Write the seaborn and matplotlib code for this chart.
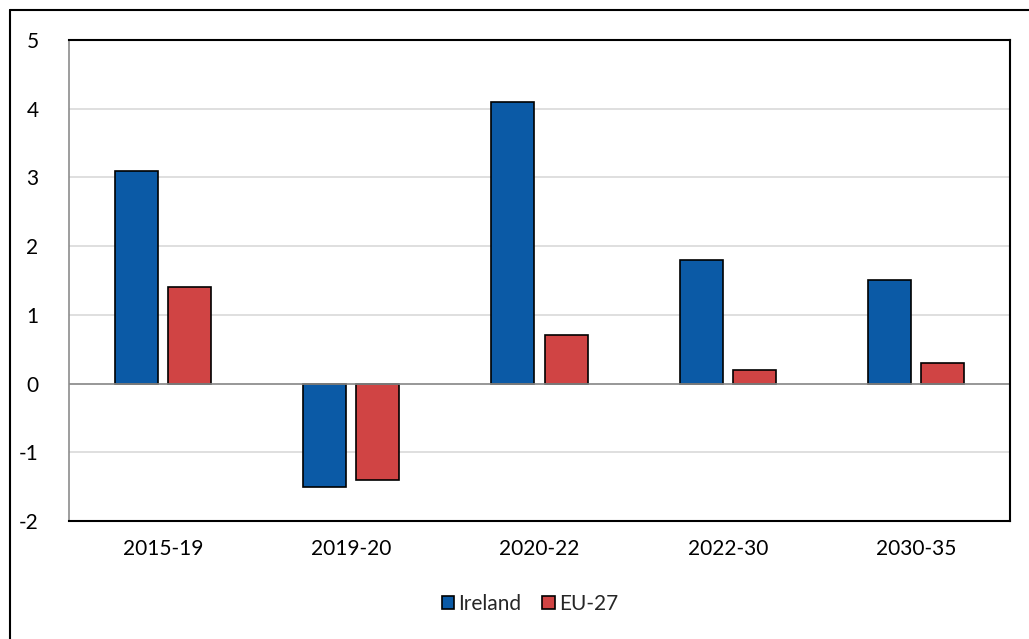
import numpy as np
import pandas as pd
import seaborn as sns
import matplotlib.pyplot as plt
from matplotlib.lines import Line2D
from matplotlib.patches import Patch

periods = ["2015-19", "2019-20", "2020-22", "2022-30", "2030-35"]
ireland = [3.1, -1.5, 4.1, 1.8, 1.5]
eu27 = [1.4, -1.4, 0.7, 0.2, 0.3]
series_names = ["Ireland", "EU-27"]
colors = ["#0B5AA6", "#D04444"]

df = pd.DataFrame({
    "period": periods * 2,
    "value": ireland + eu27,
    "series": [series_names[0]] * len(periods) + [series_names[1]] * len(periods),
})

sns.set_theme(style="white")
plt.rcParams["font.family"] = ["Lato", "DejaVu Sans"]
plt.rcParams["axes.unicode_minus"] = False

fig = plt.figure(figsize=(10.29, 6.39), dpi=100)
ax = fig.add_axes([0.0671, 0.1847, 0.9144, 0.7527])

sns.barplot(data=df, x="period", y="value", hue="series", palette=colors,
            width=0.564, gap=0.19, edgecolor="black", linewidth=1.2,
            saturation=1, legend=False, ax=ax)

ax.set_ylim(-2, 5)
ax.set_yticks(range(-2, 6))
ax.set_xlim(-0.5, len(periods) - 0.5)
ax.grid(axis="y", color="#d9d9d9", linewidth=1.2)
ax.set_axisbelow(True)
ax.axhline(0, color="#8c8c8c", linewidth=1.2, zorder=1.5)
ax.set_xlabel("")
ax.set_ylabel("")
ax.tick_params(axis="both", length=0, labelsize=15, colors="black")
ax.tick_params(axis="y", pad=22)
ax.tick_params(axis="x", pad=13)

for side in ["top", "right", "bottom"]:
    ax.spines[side].set_color("black")
    ax.spines[side].set_linewidth(1.5)
ax.spines["left"].set_color("#8c8c8c")
ax.spines["left"].set_linewidth(1.2)

handles = [Patch(facecolor=c, edgecolor="black", linewidth=1.2) for c in colors]
fig.legend(handles, series_names, loc="center", bbox_to_anchor=(0.515, 1 - 604 / 639),
           ncol=2, frameon=False, fontsize=15, handlelength=0.6, handleheight=0.6,
           handletextpad=0.2, columnspacing=1.0)

# outer frame (top and left edges only visible)
fig.add_artist(Line2D([10 / 1029, 1.0], [1 - 10 / 639, 1 - 10 / 639],
                      transform=fig.transFigure, color="black", linewidth=1.5))
fig.add_artist(Line2D([10 / 1029, 10 / 1029], [0.0, 1 - 10 / 639],
                      transform=fig.transFigure, color="black", linewidth=1.5))

fig.savefig("out.png", dpi=100)
